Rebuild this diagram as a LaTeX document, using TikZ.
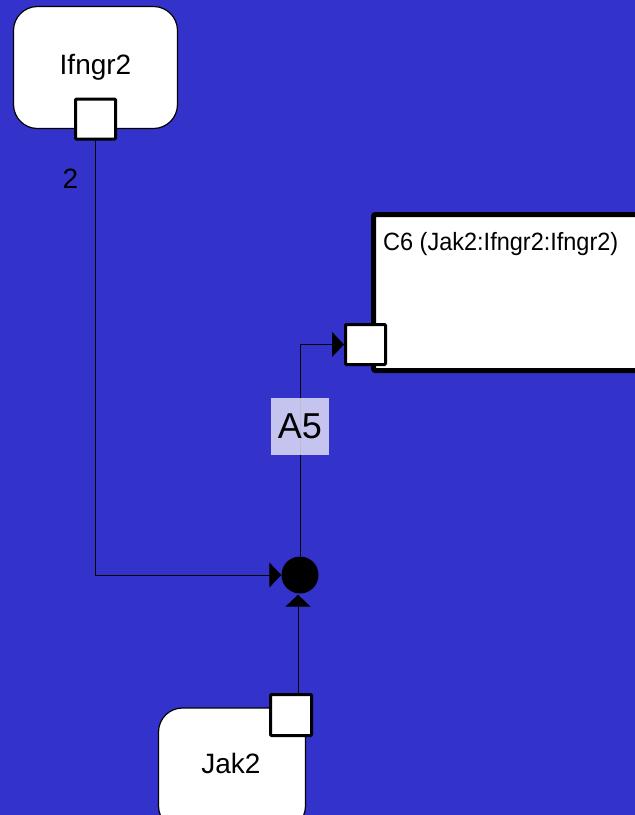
\documentclass[tikz,border=0pt]{standalone}
\usepackage{fontspec}
\setmainfont{Liberation Sans}
\newfontfamily\narrowfont[FakeStretch=0.94]{Liberation Sans}
\usetikzlibrary{arrows.meta}
\definecolor{bg}{RGB}{51,51,204}
\definecolor{lbl}{RGB}{222,222,246}
\begin{document}
\begin{tikzpicture}[x=1pt,y=-1pt,
  entity/.style={draw=black,line width=1.2pt,fill=white,rounded corners=24pt,inner sep=0pt},
  port/.style={draw=black,line width=3pt,fill=white,minimum size=40pt,inner sep=0pt,rounded corners=1pt},
  conn/.style={draw=black,line width=1pt},
  arr/.style={conn,-{Triangle[length=12pt,width=25pt]}},
  txt/.style={font=\fontsize{28}{31}\selectfont,inner sep=0pt}]
\fill[bg] (0,0) rectangle (635,815);
\useasboundingbox (0,0) rectangle (635,815);
% Ifngr2
\node[entity,minimum width=164pt,minimum height=122pt,txt] (ifn) at (95.5,67.5) {Ifngr2};
\node[port] (p1) at (95.5,119) {};
% C6 complex
\node[draw=black,line width=5pt,fill=white,minimum width=326.5pt,minimum height=156pt,inner sep=0pt,rounded corners=2pt] (c6) at (536.75,292.5) {};
\node[anchor=base west,inner sep=0pt,font=\narrowfont\fontsize{25}{28}\selectfont] (c6t) at (383,250) {C6 (Jak2:Ifngr2:Ifngr2)};
\node[port] (c6p) at (365.5,344.5) {};
% Jak2
\node[entity,minimum width=147pt,minimum height=122pt] (jak) at (232,769) {};
\node[txt] (jakt) at (231,763) {Jak2};
\node[port,minimum size=41pt] (p2) at (291,715) {};
% process
\node[circle,fill=black,minimum size=37pt,inner sep=0pt] (circ) at (300,575) {};
% connectors
\draw[arr] (p1.south) |- (circ.west);
\draw[arr] ([xshift=7pt]p2.north) -- ([xshift=-2pt,yshift=-1pt]circ.south);
\draw[arr] (circ.north) |- (c6p.west);
\node[txt] (two) at (70.5,179) {2};
\node[fill=lbl,fill opacity=0.85,text opacity=1,minimum width=58pt,minimum height=57pt,inner sep=0pt,font=\fontsize{36}{40}\selectfont] (a5) at (300,426.5) {A5};
\end{tikzpicture}
\end{document}
